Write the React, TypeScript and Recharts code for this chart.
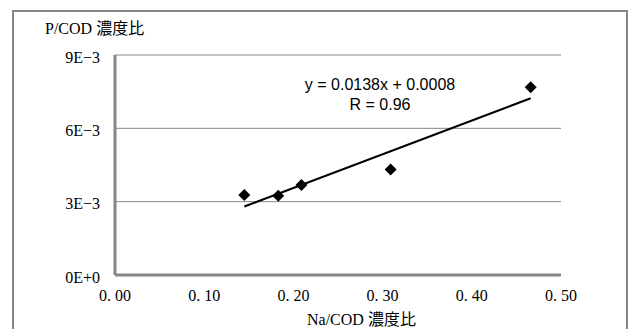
import { ScatterChart, Scatter, XAxis, YAxis, CartesianGrid, ReferenceLine } from 'recharts';

// Na/COD ratio (x) vs P/COD ratio (y)
const naCod = [0.145, 0.183, 0.209, 0.309, 0.466];
const pCod = [0.00327, 0.00324, 0.00368, 0.00432, 0.00768];

const xTicks = [0, 0.1, 0.2, 0.3, 0.4, 0.5];
const yTicks = [0, 0.003, 0.006, 0.009];
const yTickLabels = ['0E+0', '3E−3', '6E−3', '9E−3'];

// linear fit shown on the chart
const slope = 0.0138;
const intercept = 0.0008;

const points = naCod.map((x, i) => ({ x, y: pCod[i] }));
const xMin = Math.min(...naCod);
const xMax = Math.max(...naCod);
const trend = [
    { x: xMin, y: slope * xMin + intercept },
    { x: xMax, y: slope * xMax + intercept },
];

const serif = '"Liberation Serif", "Noto Sans CJK JP", serif';
const axisGray = '#868686';

const Diamond = (props: any) => {
    const { cx, cy } = props;
    const r = 6;
    return <path d={`M${cx},${cy - r}L${cx + r},${cy}L${cx},${cy + r}L${cx - r},${cy}Z`} fill="#000" />;
};

export default function App() {
    return (
        <div style={{ position: 'absolute', left: 0, top: 0, width: 633, height: 329, overflow: 'hidden', background: '#fff' }}>
            <div style={{ position: 'absolute', left: 12, top: 10, width: 612, height: 340, border: `2px solid ${axisGray}` }} />
            <ScatterChart width={633} height={329} margin={{ top: 55, right: 72, left: 55, bottom: 24 }}>
                <CartesianGrid vertical={false} stroke={axisGray} strokeWidth={1} />
                <XAxis
                    type="number"
                    dataKey="x"
                    domain={[0, 0.5]}
                    ticks={xTicks}
                    height={30}
                    tickLine={false}
                    tickMargin={9}
                    axisLine={{ stroke: axisGray, strokeWidth: 3 }}
                    tick={{ fill: '#000', fontSize: 16, fontFamily: serif }}
                    tickFormatter={(v: number) => v.toFixed(2).replace('.', '. ')}
                />
                <YAxis
                    type="number"
                    dataKey="y"
                    domain={[0, 0.009]}
                    ticks={yTicks}
                    width={60}
                    tickLine={false}
                    tickMargin={9}
                    axisLine={{ stroke: axisGray, strokeWidth: 3 }}
                    tick={{ fill: '#000', fontSize: 16, fontFamily: serif, dy: 2 }}
                    tickFormatter={(v: number, i: number) => yTickLabels[i]}
                />
                <ReferenceLine segment={trend} stroke="#000" strokeWidth={2} />
                <Scatter data={points} shape={Diamond} isAnimationActive={false} />
            </ScatterChart>
            <div style={{ position: 'absolute', left: 45, top: 21, fontFamily: serif, fontSize: 16, lineHeight: '16px', whiteSpace: 'nowrap' }}>
                P/COD 濃度比
            </div>
            <div style={{ position: 'absolute', left: 307, top: 312, fontFamily: serif, fontSize: 16, lineHeight: '16px', whiteSpace: 'nowrap' }}>
                Na/COD 濃度比
            </div>
            <div style={{ position: 'absolute', left: 280, top: 75, width: 200, textAlign: 'center', fontFamily: '"Liberation Sans", Arial, sans-serif', fontSize: 16, lineHeight: '20px' }}>
                <div>y = 0.0138x + 0.0008</div>
                <div>R = 0.96</div>
            </div>
        </div>
    );
}
